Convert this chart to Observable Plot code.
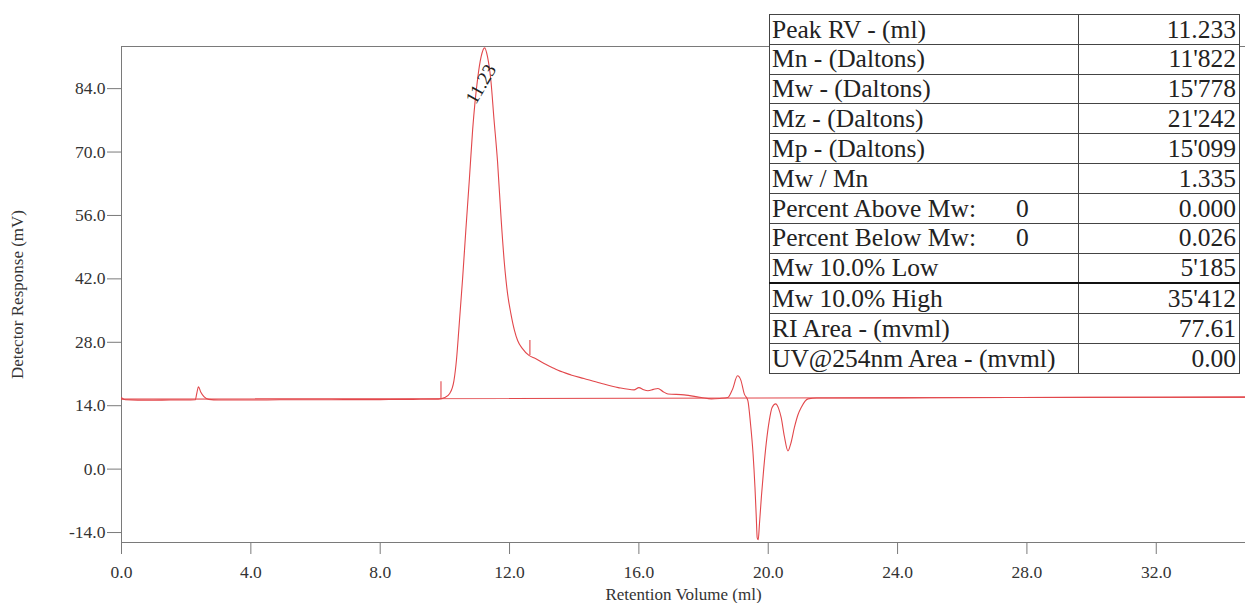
<!DOCTYPE html>
<html>
<head>
<meta charset="utf-8">
<script src="https://cdn.jsdelivr.net/npm/d3@7"></script>
<script src="https://cdn.jsdelivr.net/npm/@observablehq/plot@0.6"></script>
<style>
  html, body { margin: 0; padding: 0; background: #fff; }
  #wrap { position: relative; width: 1245px; height: 603px; overflow: hidden; }
  #wrap svg g[aria-label$="tick label"], #wrap svg g[aria-label$="tick label"] text { font-size: 17.5px !important; }
  #tbl {
    position: absolute; left: 769px; top: 14px; width: 471px; height: 360px;
    border-collapse: collapse; background: #fff;
    font-family: "Liberation Serif", "Times New Roman", serif; font-size: 25.5px; color: #222;
  }
  #tbl td { border: 1px solid #444; padding: 0 3px; line-height: 1; white-space: nowrap;
    font-family: "Liberation Serif", "Times New Roman", serif; font-size: 25.5px; }
  #tbl td.lab { width: 303px; position: relative; padding-left: 2px; }
  #tbl td.val { text-align: right; }
  #tbl td .sub { position: absolute; left: 246px; }
  #tbl tr.thick td { border-top: 2px solid #111; }
</style>
</head>
<body>
<div id="wrap"></div>
<script>
// ---- chromatogram trace (Retention Volume ml, Detector Response mV) ----
const rv = [0, 0.12, 0.5, 1.0, 1.5, 2.0, 2.28, 2.33, 2.38, 2.45, 2.55, 2.7, 3.0, 4.0, 5.0, 6.0, 7.0, 8.0, 9.0, 9.8,
  10.0, 10.15, 10.28, 10.36, 10.43, 10.55, 10.65, 10.76, 10.86, 11.01, 11.12, 11.23, 11.32, 11.42, 11.52, 11.63,
  11.74, 11.84, 11.94, 12.04, 12.15, 12.25, 12.4, 12.6, 12.8, 13.07, 13.3, 13.5, 13.9, 14.3, 14.8, 15.36, 15.85,
  16.0, 16.15, 16.28, 16.45, 16.59, 16.75, 16.9, 17.4, 17.93, 18.24, 18.5, 18.75, 18.9, 19.05, 19.15, 19.26, 19.37,
  19.45, 19.53, 19.59, 19.63, 19.66, 19.69, 19.73, 19.79, 19.86, 19.94, 20.03, 20.12, 20.23, 20.32, 20.40, 20.5, 20.61, 20.7,
  20.81, 20.92, 21.02, 21.23, 21.5, 22, 25, 30, 34.76];
const mv = [15.8, 15.3, 15.2, 15.2, 15.25, 15.25, 15.3, 16.8, 18.2, 17.0, 16.0, 15.4, 15.25, 15.25, 15.3, 15.3, 15.35, 15.35, 15.4, 15.45,
  15.8, 16.7, 19.5, 24.2, 30.6, 42.2, 52.9, 64.2, 75.0, 86.0, 91.0, 93.0, 91.0, 86.0, 77.2, 67.8,
  55.2, 45.5, 38.7, 34.4, 30.7, 28.4, 26.6, 25.1, 24.4, 23.3, 22.5, 21.8, 20.8, 20.0, 19.0, 18.0, 17.5,
  18.0, 17.5, 17.3, 17.6, 17.8, 17.1, 16.6, 16.4, 15.8, 15.5, 15.6, 15.8, 17.7, 20.6, 19.7, 16.6, 15.1,
  10.2, 3.5, -4.0, -10.5, -15.2, -15.6, -12.0, -6.0, 0.0, 5.8, 10.6, 13.6, 14.4, 13.4, 11.4, 7.2, 4.0, 5.7,
  9.2, 12.0, 13.6, 15.5, 15.7, 15.7, 15.75, 15.85, 15.9];

// integration baseline
const baseX = [0, 34.76];
const baseY = [15.45, 15.9];

// integration limit markers
const markX = [9.88, 12.63];
const markY1 = [15.5, 25.1];
const markY2 = [19.3, 28.4];

// peak annotation
const peakX = [11.12];
const peakY = [85.0];
const peakText = ["11.23"];

// axes
const xTicks = [0, 4, 8, 12, 16, 20, 24, 28, 32];
const yTicks = [-14, 0, 14, 28, 42, 56, 70, 84];
const xDomain = [0, 34.76];
const yDomain = [-16.2, 93.3];
const xTitle = "Retention Volume (ml)";
const yTitle = "Detector Response (mV)";

// results table
const tableLabels = ["Peak RV - (ml)", "Mn - (Daltons)", "Mw - (Daltons)", "Mz - (Daltons)", "Mp - (Daltons)", "Mw / Mn",
  "Percent Above Mw:", "Percent Below Mw:", "Mw 10.0% Low", "Mw 10.0% High", "RI Area - (mvml)", "UV@254nm Area - (mvml)"];
const tableSub = ["", "", "", "", "", "", "0", "0", "", "", "", ""];
const tableValues = ["11.233", "11'822", "15'778", "21'242", "15'099", "1.335", "0.000", "0.026", "5'185", "35'412", "77.61", "0.00"];

const trace = rv.map((x, i) => ({x, y: mv[i]}));
const base = baseX.map((x, i) => ({x, y: baseY[i]}));
const marks = markX.map((x, i) => ({x, y1: markY1[i], y2: markY2[i]}));
const peaks = peakX.map((x, i) => ({x, y: peakY[i], t: peakText[i]}));

const red = "#e2474b";
const axisGrey = "#7a7a7a";
const fmt = d => d.toFixed(1);

const chart = Plot.plot({
  width: 1245,
  height: 603,
  marginLeft: 121,
  marginRight: 0,
  marginTop: 46,
  marginBottom: 61,
  style: {fontFamily: "'Liberation Serif', 'Times New Roman', serif", fontSize: "17.5px", color: "#333", background: "#fff"},
  x: {domain: xDomain},
  y: {domain: yDomain},
  marks: [
    Plot.axisX({ticks: xTicks, tickFormat: fmt, tickSize: 12, tickPadding: 11, stroke: axisGrey, label: null, fill: "#333", fontSize: 17.5}),
    Plot.axisY({ticks: yTicks, tickFormat: fmt, tickSize: 14, tickPadding: 2, stroke: axisGrey, label: null, fill: "#333", fontSize: 17.5}),
    Plot.ruleX([xDomain[0]], {stroke: axisGrey}),
    Plot.ruleY([yDomain[0]], {stroke: axisGrey}),
    Plot.ruleY([yDomain[1]], {stroke: axisGrey}),
    Plot.line(base, {x: "x", y: "y", stroke: red, strokeWidth: 1.1}),
    Plot.line(trace, {x: "x", y: "y", stroke: red, strokeWidth: 1.1, curve: "monotone-x"}),
    Plot.ruleX(marks, {x: "x", y1: "y1", y2: "y2", stroke: red, strokeWidth: 1.1}),
    Plot.text(peaks, {x: "x", y: "y", text: "t", rotate: -60, fontSize: 19, fill: "#222"}),
    Plot.text([xTitle], {frameAnchor: "bottom", dy: 57, fontSize: 17, fill: "#333", textAnchor: "middle"}),
    Plot.text([yTitle], {frameAnchor: "left", dx: -104, rotate: -90, fontSize: 17, fill: "#333", textAnchor: "middle", lineAnchor: "middle"})
  ]
});

const wrap = document.getElementById("wrap");
wrap.appendChild(chart);

// table
const table = document.createElement("table");
table.id = "tbl";
tableLabels.forEach((lab, i) => {
  const tr = document.createElement("tr");
  if (i === 9) tr.className = "thick";
  const td1 = document.createElement("td");
  td1.className = "lab";
  td1.textContent = lab;
  if (tableSub[i]) {
    const s = document.createElement("span");
    s.className = "sub";
    s.textContent = tableSub[i];
    td1.appendChild(s);
  }
  const td2 = document.createElement("td");
  td2.className = "val";
  td2.textContent = tableValues[i];
  tr.appendChild(td1);
  tr.appendChild(td2);
  table.appendChild(tr);
});
wrap.appendChild(table);
</script>
</body>
</html>
